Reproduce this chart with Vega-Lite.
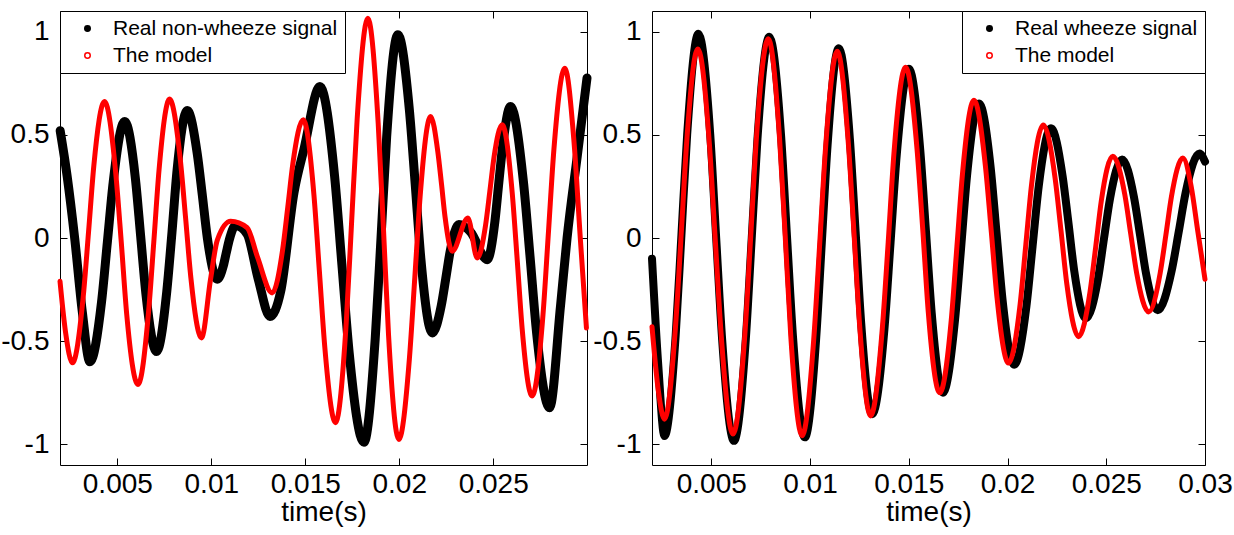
{
  "$schema": "https://vega.github.io/schema/vega-lite/v6.json",
  "padding": {"left": 0, "top": 10, "right": 0, "bottom": 0},
  "background": "white",
  "spacing": 0,
  "datasets": {
    "left": [
      {"t": 0.00196, "v": 0.52, "s": "Real non-wheeze signal"},
      {"t": 0.00233, "v": 0.30, "s": "Real non-wheeze signal"},
      {"t": 0.00273, "v": 0.00, "s": "Real non-wheeze signal"},
      {"t": 0.00314, "v": -0.36, "s": "Real non-wheeze signal"},
      {"t": 0.00354, "v": -0.60, "s": "Real non-wheeze signal"},
      {"t": 0.00416, "v": -0.31, "s": "Real non-wheeze signal"},
      {"t": 0.00447, "v": -0.02, "s": "Real non-wheeze signal"},
      {"t": 0.00478, "v": 0.27, "s": "Real non-wheeze signal"},
      {"t": 0.00539, "v": 0.565, "s": "Real non-wheeze signal"},
      {"t": 0.00596, "v": 0.29, "s": "Real non-wheeze signal"},
      {"t": 0.00624, "v": 0.01, "s": "Real non-wheeze signal"},
      {"t": 0.00652, "v": -0.27, "s": "Real non-wheeze signal"},
      {"t": 0.00709, "v": -0.55, "s": "Real non-wheeze signal"},
      {"t": 0.00763, "v": -0.26, "s": "Real non-wheeze signal"},
      {"t": 0.00791, "v": 0.03, "s": "Real non-wheeze signal"},
      {"t": 0.00818, "v": 0.33, "s": "Real non-wheeze signal"},
      {"t": 0.00872, "v": 0.618, "s": "Real non-wheeze signal"},
      {"t": 0.00925, "v": 0.41, "s": "Real non-wheeze signal"},
      {"t": 0.00952, "v": 0.21, "s": "Real non-wheeze signal"},
      {"t": 0.00979, "v": 0.00, "s": "Real non-wheeze signal"},
      {"t": 0.01032, "v": -0.20, "s": "Real non-wheeze signal"},
      {"t": 0.01064, "v": -0.135, "s": "Real non-wheeze signal"},
      {"t": 0.01080, "v": -0.07, "s": "Real non-wheeze signal"},
      {"t": 0.01097, "v": -0.005, "s": "Real non-wheeze signal"},
      {"t": 0.01129, "v": 0.06, "s": "Real non-wheeze signal"},
      {"t": 0.01190, "v": 0.02, "s": "Real non-wheeze signal"},
      {"t": 0.01250, "v": -0.20, "s": "Real non-wheeze signal"},
      {"t": 0.01312, "v": -0.38, "s": "Real non-wheeze signal"},
      {"t": 0.01369, "v": -0.26, "s": "Real non-wheeze signal"},
      {"t": 0.01440, "v": 0.22, "s": "Real non-wheeze signal"},
      {"t": 0.01493, "v": 0.43, "s": "Real non-wheeze signal"},
      {"t": 0.01578, "v": 0.734, "s": "Real non-wheeze signal"},
      {"t": 0.01656, "v": 0.30, "s": "Real non-wheeze signal"},
      {"t": 0.01695, "v": -0.13, "s": "Real non-wheeze signal"},
      {"t": 0.01734, "v": -0.56, "s": "Real non-wheeze signal"},
      {"t": 0.01812, "v": -0.99, "s": "Real non-wheeze signal"},
      {"t": 0.01872, "v": -0.49, "s": "Real non-wheeze signal"},
      {"t": 0.01903, "v": 0.00, "s": "Real non-wheeze signal"},
      {"t": 0.01933, "v": 0.49, "s": "Real non-wheeze signal"},
      {"t": 0.01993, "v": 0.985, "s": "Real non-wheeze signal"},
      {"t": 0.02054, "v": 0.62, "s": "Real non-wheeze signal"},
      {"t": 0.02085, "v": 0.26, "s": "Real non-wheeze signal"},
      {"t": 0.02115, "v": -0.10, "s": "Real non-wheeze signal"},
      {"t": 0.02176, "v": -0.46, "s": "Real non-wheeze signal"},
      {"t": 0.02223, "v": -0.33, "s": "Real non-wheeze signal"},
      {"t": 0.02247, "v": -0.20, "s": "Real non-wheeze signal"},
      {"t": 0.02270, "v": -0.07, "s": "Real non-wheeze signal"},
      {"t": 0.02317, "v": 0.065, "s": "Real non-wheeze signal"},
      {"t": 0.02379, "v": 0.03, "s": "Real non-wheeze signal"},
      {"t": 0.02468, "v": -0.105, "s": "Real non-wheeze signal"},
      {"t": 0.02509, "v": 0.08, "s": "Real non-wheeze signal"},
      {"t": 0.02530, "v": 0.27, "s": "Real non-wheeze signal"},
      {"t": 0.02551, "v": 0.45, "s": "Real non-wheeze signal"},
      {"t": 0.02592, "v": 0.637, "s": "Real non-wheeze signal"},
      {"t": 0.02661, "v": 0.27, "s": "Real non-wheeze signal"},
      {"t": 0.02696, "v": -0.09, "s": "Real non-wheeze signal"},
      {"t": 0.02731, "v": -0.46, "s": "Real non-wheeze signal"},
      {"t": 0.02800, "v": -0.823, "s": "Real non-wheeze signal"},
      {"t": 0.02858, "v": -0.33, "s": "Real non-wheeze signal"},
      {"t": 0.02893, "v": 0.00, "s": "Real non-wheeze signal"},
      {"t": 0.02947, "v": 0.395, "s": "Real non-wheeze signal"},
      {"t": 0.02999, "v": 0.775, "s": "Real non-wheeze signal"},
      {"t": 0.00195, "v": -0.21, "s": "The model"},
      {"t": 0.00225, "v": -0.46, "s": "The model"},
      {"t": 0.00261, "v": -0.605, "s": "The model"},
      {"t": 0.00318, "v": -0.29, "s": "The model"},
      {"t": 0.00347, "v": 0.03, "s": "The model"},
      {"t": 0.00375, "v": 0.35, "s": "The model"},
      {"t": 0.00432, "v": 0.662, "s": "The model"},
      {"t": 0.00491, "v": 0.32, "s": "The model"},
      {"t": 0.00521, "v": -0.02, "s": "The model"},
      {"t": 0.00550, "v": -0.37, "s": "The model"},
      {"t": 0.00610, "v": -0.71, "s": "The model"},
      {"t": 0.00666, "v": -0.36, "s": "The model"},
      {"t": 0.00694, "v": -0.02, "s": "The model"},
      {"t": 0.00722, "v": 0.33, "s": "The model"},
      {"t": 0.00778, "v": 0.673, "s": "The model"},
      {"t": 0.00835, "v": 0.38, "s": "The model"},
      {"t": 0.00863, "v": 0.10, "s": "The model"},
      {"t": 0.00891, "v": -0.19, "s": "The model"},
      {"t": 0.00948, "v": -0.484, "s": "The model"},
      {"t": 0.00996, "v": -0.20, "s": "The model"},
      {"t": 0.01032, "v": -0.01, "s": "The model"},
      {"t": 0.01103, "v": 0.081, "s": "The model"},
      {"t": 0.01191, "v": 0.05, "s": "The model"},
      {"t": 0.01245, "v": -0.09, "s": "The model"},
      {"t": 0.01324, "v": -0.266, "s": "The model"},
      {"t": 0.01379, "v": -0.06, "s": "The model"},
      {"t": 0.01407, "v": 0.15, "s": "The model"},
      {"t": 0.01434, "v": 0.36, "s": "The model"},
      {"t": 0.01489, "v": 0.573, "s": "The model"},
      {"t": 0.01546, "v": 0.21, "s": "The model"},
      {"t": 0.01575, "v": -0.16, "s": "The model"},
      {"t": 0.01604, "v": -0.53, "s": "The model"},
      {"t": 0.01661, "v": -0.895, "s": "The model"},
      {"t": 0.01718, "v": -0.41, "s": "The model"},
      {"t": 0.01747, "v": 0.085, "s": "The model"},
      {"t": 0.01776, "v": 0.575, "s": "The model"},
      {"t": 0.01833, "v": 1.065, "s": "The model"},
      {"t": 0.01888, "v": 0.555, "s": "The model"},
      {"t": 0.01916, "v": 0.045, "s": "The model"},
      {"t": 0.01943, "v": -0.47, "s": "The model"},
      {"t": 0.01998, "v": -0.976, "s": "The model"},
      {"t": 0.02054, "v": -0.585, "s": "The model"},
      {"t": 0.02083, "v": -0.19, "s": "The model"},
      {"t": 0.02111, "v": 0.20, "s": "The model"},
      {"t": 0.02167, "v": 0.589, "s": "The model"},
      {"t": 0.02205, "v": 0.42, "s": "The model"},
      {"t": 0.02225, "v": 0.26, "s": "The model"},
      {"t": 0.02244, "v": 0.10, "s": "The model"},
      {"t": 0.02282, "v": -0.064, "s": "The model"},
      {"t": 0.02365, "v": 0.097, "s": "The model"},
      {"t": 0.02415, "v": -0.097, "s": "The model"},
      {"t": 0.02459, "v": 0.06, "s": "The model"},
      {"t": 0.02482, "v": 0.226, "s": "The model"},
      {"t": 0.02504, "v": 0.39, "s": "The model"},
      {"t": 0.02548, "v": 0.549, "s": "The model"},
      {"t": 0.02601, "v": 0.22, "s": "The model"},
      {"t": 0.02628, "v": -0.11, "s": "The model"},
      {"t": 0.02654, "v": -0.44, "s": "The model"},
      {"t": 0.02707, "v": -0.766, "s": "The model"},
      {"t": 0.02765, "v": -0.37, "s": "The model"},
      {"t": 0.02794, "v": 0.03, "s": "The model"},
      {"t": 0.02823, "v": 0.43, "s": "The model"},
      {"t": 0.02881, "v": 0.823, "s": "The model"},
      {"t": 0.02929, "v": 0.476, "s": "The model"},
      {"t": 0.02964, "v": -0.01, "s": "The model"},
      {"t": 0.02996, "v": -0.436, "s": "The model"}
    ],
    "right": [
      {"t": 0.00200, "v": -0.10, "s": "Real wheeze signal"},
      {"t": 0.00232, "v": -0.62, "s": "Real wheeze signal"},
      {"t": 0.00263, "v": -0.96, "s": "Real wheeze signal"},
      {"t": 0.00320, "v": -0.47, "s": "Real wheeze signal"},
      {"t": 0.00349, "v": 0.015, "s": "Real wheeze signal"},
      {"t": 0.00378, "v": 0.50, "s": "Real wheeze signal"},
      {"t": 0.00435, "v": 0.99, "s": "Real wheeze signal"},
      {"t": 0.00495, "v": 0.50, "s": "Real wheeze signal"},
      {"t": 0.00525, "v": 0.00, "s": "Real wheeze signal"},
      {"t": 0.00555, "v": -0.49, "s": "Real wheeze signal"},
      {"t": 0.00615, "v": -0.983, "s": "Real wheeze signal"},
      {"t": 0.00675, "v": -0.49, "s": "Real wheeze signal"},
      {"t": 0.00705, "v": 0.00, "s": "Real wheeze signal"},
      {"t": 0.00734, "v": 0.48, "s": "Real wheeze signal"},
      {"t": 0.00794, "v": 0.975, "s": "Real wheeze signal"},
      {"t": 0.00854, "v": 0.49, "s": "Real wheeze signal"},
      {"t": 0.00884, "v": 0.00, "s": "Real wheeze signal"},
      {"t": 0.00914, "v": -0.48, "s": "Real wheeze signal"},
      {"t": 0.00974, "v": -0.966, "s": "Real wheeze signal"},
      {"t": 0.01031, "v": -0.49, "s": "Real wheeze signal"},
      {"t": 0.01060, "v": -0.02, "s": "Real wheeze signal"},
      {"t": 0.01089, "v": 0.45, "s": "Real wheeze signal"},
      {"t": 0.01146, "v": 0.92, "s": "Real wheeze signal"},
      {"t": 0.01202, "v": 0.48, "s": "Real wheeze signal"},
      {"t": 0.01231, "v": 0.03, "s": "Real wheeze signal"},
      {"t": 0.01259, "v": -0.41, "s": "Real wheeze signal"},
      {"t": 0.01315, "v": -0.854, "s": "Real wheeze signal"},
      {"t": 0.01377, "v": -0.44, "s": "Real wheeze signal"},
      {"t": 0.01408, "v": -0.02, "s": "Real wheeze signal"},
      {"t": 0.01439, "v": 0.40, "s": "Real wheeze signal"},
      {"t": 0.01501, "v": 0.82, "s": "Real wheeze signal"},
      {"t": 0.01558, "v": 0.43, "s": "Real wheeze signal"},
      {"t": 0.01587, "v": 0.035, "s": "Real wheeze signal"},
      {"t": 0.01616, "v": -0.36, "s": "Real wheeze signal"},
      {"t": 0.01673, "v": -0.75, "s": "Real wheeze signal"},
      {"t": 0.01734, "v": -0.40, "s": "Real wheeze signal"},
      {"t": 0.01765, "v": -0.05, "s": "Real wheeze signal"},
      {"t": 0.01795, "v": 0.30, "s": "Real wheeze signal"},
      {"t": 0.01856, "v": 0.652, "s": "Real wheeze signal"},
      {"t": 0.01915, "v": 0.34, "s": "Real wheeze signal"},
      {"t": 0.01945, "v": 0.02, "s": "Real wheeze signal"},
      {"t": 0.01975, "v": -0.30, "s": "Real wheeze signal"},
      {"t": 0.02034, "v": -0.614, "s": "Real wheeze signal"},
      {"t": 0.02096, "v": -0.33, "s": "Real wheeze signal"},
      {"t": 0.02127, "v": -0.04, "s": "Real wheeze signal"},
      {"t": 0.02158, "v": 0.25, "s": "Real wheeze signal"},
      {"t": 0.02220, "v": 0.532, "s": "Real wheeze signal"},
      {"t": 0.02279, "v": 0.30, "s": "Real wheeze signal"},
      {"t": 0.02309, "v": 0.07, "s": "Real wheeze signal"},
      {"t": 0.02338, "v": -0.16, "s": "Real wheeze signal"},
      {"t": 0.02397, "v": -0.39, "s": "Real wheeze signal"},
      {"t": 0.02458, "v": -0.20, "s": "Real wheeze signal"},
      {"t": 0.02489, "v": 0.00, "s": "Real wheeze signal"},
      {"t": 0.02519, "v": 0.19, "s": "Real wheeze signal"},
      {"t": 0.02580, "v": 0.38, "s": "Real wheeze signal"},
      {"t": 0.02640, "v": 0.20, "s": "Real wheeze signal"},
      {"t": 0.02671, "v": 0.015, "s": "Real wheeze signal"},
      {"t": 0.02701, "v": -0.17, "s": "Real wheeze signal"},
      {"t": 0.02761, "v": -0.35, "s": "Real wheeze signal"},
      {"t": 0.02831, "v": -0.16, "s": "Real wheeze signal"},
      {"t": 0.02867, "v": 0.03, "s": "Real wheeze signal"},
      {"t": 0.02902, "v": 0.22, "s": "Real wheeze signal"},
      {"t": 0.02972, "v": 0.41, "s": "Real wheeze signal"},
      {"t": 0.03000, "v": 0.37, "s": "Real wheeze signal"},
      {"t": 0.00200, "v": -0.43, "s": "The model"},
      {"t": 0.00232, "v": -0.74, "s": "The model"},
      {"t": 0.00263, "v": -0.878, "s": "The model"},
      {"t": 0.00319, "v": -0.43, "s": "The model"},
      {"t": 0.00348, "v": 0.02, "s": "The model"},
      {"t": 0.00376, "v": 0.47, "s": "The model"},
      {"t": 0.00432, "v": 0.916, "s": "The model"},
      {"t": 0.00491, "v": 0.45, "s": "The model"},
      {"t": 0.00521, "v": -0.02, "s": "The model"},
      {"t": 0.00551, "v": -0.48, "s": "The model"},
      {"t": 0.00610, "v": -0.95, "s": "The model"},
      {"t": 0.00670, "v": -0.47, "s": "The model"},
      {"t": 0.00700, "v": 0.01, "s": "The model"},
      {"t": 0.00729, "v": 0.49, "s": "The model"},
      {"t": 0.00789, "v": 0.965, "s": "The model"},
      {"t": 0.00846, "v": 0.48, "s": "The model"},
      {"t": 0.00875, "v": 0.00, "s": "The model"},
      {"t": 0.00903, "v": -0.48, "s": "The model"},
      {"t": 0.00960, "v": -0.958, "s": "The model"},
      {"t": 0.01019, "v": -0.49, "s": "The model"},
      {"t": 0.01049, "v": -0.03, "s": "The model"},
      {"t": 0.01079, "v": 0.44, "s": "The model"},
      {"t": 0.01138, "v": 0.905, "s": "The model"},
      {"t": 0.01194, "v": 0.46, "s": "The model"},
      {"t": 0.01223, "v": 0.02, "s": "The model"},
      {"t": 0.01251, "v": -0.42, "s": "The model"},
      {"t": 0.01307, "v": -0.862, "s": "The model"},
      {"t": 0.01366, "v": -0.44, "s": "The model"},
      {"t": 0.01396, "v": -0.02, "s": "The model"},
      {"t": 0.01425, "v": 0.41, "s": "The model"},
      {"t": 0.01484, "v": 0.828, "s": "The model"},
      {"t": 0.01542, "v": 0.43, "s": "The model"},
      {"t": 0.01571, "v": 0.04, "s": "The model"},
      {"t": 0.01599, "v": -0.36, "s": "The model"},
      {"t": 0.01657, "v": -0.75, "s": "The model"},
      {"t": 0.01715, "v": -0.40, "s": "The model"},
      {"t": 0.01744, "v": -0.04, "s": "The model"},
      {"t": 0.01772, "v": 0.31, "s": "The model"},
      {"t": 0.01830, "v": 0.668, "s": "The model"},
      {"t": 0.01888, "v": 0.35, "s": "The model"},
      {"t": 0.01918, "v": 0.03, "s": "The model"},
      {"t": 0.01947, "v": -0.29, "s": "The model"},
      {"t": 0.02005, "v": -0.606, "s": "The model"},
      {"t": 0.02064, "v": -0.32, "s": "The model"},
      {"t": 0.02093, "v": -0.03, "s": "The model"},
      {"t": 0.02122, "v": 0.26, "s": "The model"},
      {"t": 0.02181, "v": 0.548, "s": "The model"},
      {"t": 0.02241, "v": 0.29, "s": "The model"},
      {"t": 0.02271, "v": 0.035, "s": "The model"},
      {"t": 0.02300, "v": -0.22, "s": "The model"},
      {"t": 0.02360, "v": -0.478, "s": "The model"},
      {"t": 0.02418, "v": -0.26, "s": "The model"},
      {"t": 0.02447, "v": -0.04, "s": "The model"},
      {"t": 0.02475, "v": 0.18, "s": "The model"},
      {"t": 0.02533, "v": 0.396, "s": "The model"},
      {"t": 0.02594, "v": 0.21, "s": "The model"},
      {"t": 0.02624, "v": 0.02, "s": "The model"},
      {"t": 0.02654, "v": -0.17, "s": "The model"},
      {"t": 0.02715, "v": -0.358, "s": "The model"},
      {"t": 0.02773, "v": -0.17, "s": "The model"},
      {"t": 0.02802, "v": 0.015, "s": "The model"},
      {"t": 0.02830, "v": 0.20, "s": "The model"},
      {"t": 0.02888, "v": 0.388, "s": "The model"},
      {"t": 0.02930, "v": 0.25, "s": "The model"},
      {"t": 0.02964, "v": 0.03, "s": "The model"},
      {"t": 0.03000, "v": -0.20, "s": "The model"}
    ]
  },
  "resolve": {"scale": {"stroke": "independent", "fill": "independent"}, "legend": {"stroke": "independent", "fill": "independent"}},
  "hconcat": [
    {
      "width": 527,
      "height": 454,
      "data": {"name": "left"},
      "layer": [
        {
          "mark": {"type": "point", "shape": "circle", "filled": true, "opacity": 0},
          "encoding": {
            "x": {"field": "t", "type": "quantitative", "scale": {"domain": [0.00195, 0.02999], "nice": false, "zero": false}, "axis": null},
            "y": {"field": "v", "type": "quantitative", "scale": {"domain": [-1.1, 1.1], "nice": false, "zero": false}, "axis": null},
            "fill": {
              "field": "s", "type": "nominal",
              "scale": {"domain": ["Real non-wheeze signal", "The model"], "range": ["black", "white"]},
              "legend": {"title": null, "orient": "top-left", "offset": 0, "padding": 7, "strokeColor": "black", "fillColor": "white", "labelFontSize": 21, "labelLimit": 400, "symbolType": "circle", "symbolSize": 30, "symbolStrokeWidth": 1.5, "symbolFillColor": "black", "symbolStrokeColor": "black", "symbolOffset": 10, "labelOffset": 15, "rowPadding": 5}
            },
            "stroke": {
              "field": "s", "type": "nominal",
              "scale": {"domain": ["Real non-wheeze signal", "The model"], "range": ["black", "red"]},
              "legend": {"title": null, "orient": "top-left", "offset": 0, "padding": 7, "strokeColor": "black", "fillColor": "white", "labelFontSize": 21, "labelLimit": 400, "symbolType": "circle", "symbolSize": 30, "symbolStrokeWidth": 1.5, "symbolFillColor": "black", "symbolStrokeColor": "black", "symbolOffset": 10, "labelOffset": 15, "rowPadding": 5}
            }
          }
        },
        {
          "transform": [{"filter": "datum.s !== 'The model'"}],
          "mark": {"type": "line", "interpolate": "monotone", "color": "black", "strokeWidth": 9, "strokeCap": "round", "strokeJoin": "round"},
          "encoding": {
            "x": {"field": "t", "type": "quantitative", "title": "time(s)",
              "axis": {"orient": "bottom", "values": [0.005, 0.01, 0.015, 0.02, 0.025], "labelExpr": "toString(datum.value)", "grid": false, "domain": false, "tickSize": -7, "labelPadding": 12, "labelFontSize": 28, "labelFlush": false, "labelOverlap": false, "titleFontSize": 28, "titleFontWeight": "normal", "titlePadding": 0}},
            "y": {"field": "v", "type": "quantitative", "title": null,
              "axis": {"orient": "left", "values": [-1, -0.5, 0, 0.5, 1], "labelExpr": "toString(datum.value)", "grid": false, "domain": false, "tickSize": -7, "labelPadding": 18, "labelFontSize": 28, "labelFlush": false, "labelOverlap": false}}
          }
        },
        {
          "transform": [{"filter": "datum.s === 'The model'"}],
          "mark": {"type": "line", "interpolate": "monotone", "color": "red", "strokeWidth": 5, "strokeCap": "round", "strokeJoin": "round"},
          "encoding": {
            "x": {"field": "t", "type": "quantitative", "title": null,
              "axis": {"orient": "top", "values": [0.005, 0.01, 0.015, 0.02, 0.025], "labels": false, "grid": false, "domain": false, "tickSize": -7}},
            "y": {"field": "v", "type": "quantitative", "title": null,
              "axis": {"orient": "right", "values": [-1, -0.5, 0, 0.5, 1], "labels": false, "grid": false, "domain": false, "tickSize": -7}}
          }
        }
      ],
      "resolve": {"axis": {"x": "independent", "y": "independent"}}
    },
    {
      "width": 553,
      "height": 454,
      "data": {"name": "right"},
      "layer": [
        {
          "mark": {"type": "point", "shape": "circle", "filled": true, "opacity": 0},
          "encoding": {
            "x": {"field": "t", "type": "quantitative", "scale": {"domain": [0.002, 0.03], "nice": false, "zero": false}, "axis": null},
            "y": {"field": "v", "type": "quantitative", "scale": {"domain": [-1.1, 1.1], "nice": false, "zero": false}, "axis": null},
            "fill": {
              "field": "s", "type": "nominal",
              "scale": {"domain": ["Real wheeze signal", "The model"], "range": ["black", "white"]},
              "legend": {"title": null, "orient": "top-right", "offset": 0, "padding": 7, "strokeColor": "black", "fillColor": "white", "labelFontSize": 21, "labelLimit": 400, "symbolType": "circle", "symbolSize": 30, "symbolStrokeWidth": 1.5, "symbolFillColor": "black", "symbolStrokeColor": "black", "symbolOffset": 10, "labelOffset": 15, "rowPadding": 5}
            },
            "stroke": {
              "field": "s", "type": "nominal",
              "scale": {"domain": ["Real wheeze signal", "The model"], "range": ["black", "red"]},
              "legend": {"title": null, "orient": "top-right", "offset": 0, "padding": 7, "strokeColor": "black", "fillColor": "white", "labelFontSize": 21, "labelLimit": 400, "symbolType": "circle", "symbolSize": 30, "symbolStrokeWidth": 1.5, "symbolFillColor": "black", "symbolStrokeColor": "black", "symbolOffset": 10, "labelOffset": 15, "rowPadding": 5}
            }
          }
        },
        {
          "transform": [{"filter": "datum.s !== 'The model'"}],
          "mark": {"type": "line", "interpolate": "monotone", "color": "black", "strokeWidth": 8, "strokeCap": "round", "strokeJoin": "round"},
          "encoding": {
            "x": {"field": "t", "type": "quantitative", "title": "time(s)",
              "axis": {"orient": "bottom", "values": [0.005, 0.01, 0.015, 0.02, 0.025, 0.03], "labelExpr": "toString(datum.value)", "grid": false, "domain": false, "tickSize": -7, "labelPadding": 12, "labelFontSize": 28, "labelFlush": false, "labelOverlap": false, "titleFontSize": 28, "titleFontWeight": "normal", "titlePadding": 0}},
            "y": {"field": "v", "type": "quantitative", "title": null,
              "axis": {"orient": "left", "values": [-1, -0.5, 0, 0.5, 1], "labelExpr": "toString(datum.value)", "grid": false, "domain": false, "tickSize": -7, "labelPadding": 18, "labelFontSize": 28, "labelFlush": false, "labelOverlap": false}}
          }
        },
        {
          "transform": [{"filter": "datum.s === 'The model'"}],
          "mark": {"type": "line", "interpolate": "monotone", "color": "red", "strokeWidth": 5, "strokeCap": "round", "strokeJoin": "round"},
          "encoding": {
            "x": {"field": "t", "type": "quantitative", "title": null,
              "axis": {"orient": "top", "values": [0.005, 0.01, 0.015, 0.02, 0.025, 0.03], "labels": false, "grid": false, "domain": false, "tickSize": -7}},
            "y": {"field": "v", "type": "quantitative", "title": null,
              "axis": {"orient": "right", "values": [-1, -0.5, 0, 0.5, 1], "labels": false, "grid": false, "domain": false, "tickSize": -7}}
          }
        }
      ],
      "resolve": {"axis": {"x": "independent", "y": "independent"}}
    }
  ],
  "config": {
    "view": {"stroke": "black", "strokeWidth": 1},
    "axis": {"labelFont": "Liberation Sans", "titleFont": "Liberation Sans", "labelColor": "black", "titleColor": "black", "tickColor": "black", "tickWidth": 1},
    "legend": {"labelFont": "Liberation Sans", "labelColor": "black"}
  }
}
